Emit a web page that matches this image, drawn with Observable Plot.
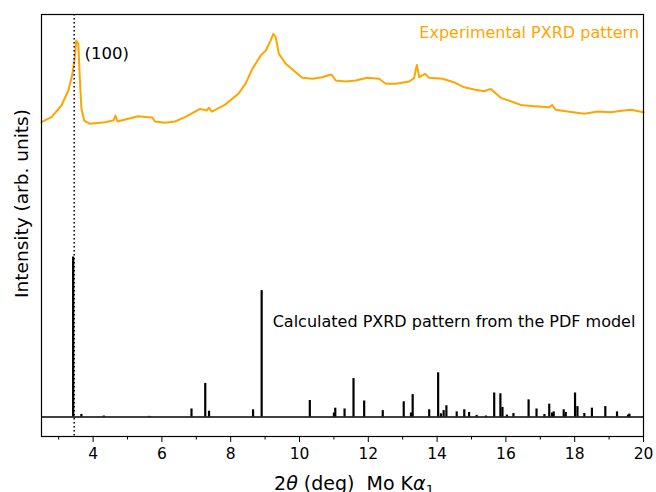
<!DOCTYPE html>
<html>
<head>
<meta charset="utf-8">
<script src="https://cdn.jsdelivr.net/npm/d3@7"></script>
<script src="https://cdn.jsdelivr.net/npm/@observablehq/plot@0.6"></script>
<style>
  body { margin: 0; background: #fff; }
  #chart { width: 656px; height: 492px; }
  #chart svg { font-family: "DejaVu Sans", sans-serif; }
</style>
</head>
<body>
<div id="chart"></div>
<script>
// Calculated reflections: 2θ positions (deg) and relative intensities (strongest = 100)
const calcTheta = [3.42, 3.66, 4.31, 5.63, 6.86, 7.26, 7.37, 8.65, 8.90, 10.30,
  11.00, 11.04, 11.31, 11.57, 11.88, 12.42, 13.03, 13.24, 13.29, 13.77,
  14.03, 14.11, 14.19, 14.27, 14.57, 14.79, 14.93, 15.15, 15.42, 15.66,
  15.84, 15.90, 16.03, 16.22, 16.66, 16.89, 17.12, 17.26, 17.34, 17.39,
  17.68, 17.74, 18.01, 18.08, 18.28, 18.50, 18.89, 19.23, 19.55, 19.59];
const calcIntensity = [100, 1.6, 0.6, 0.4, 5, 21, 3.6, 4.5, 79, 10.3,
  2.5, 5.5, 5, 24, 10, 4, 9.5, 2.5, 14, 4.5,
  27.6, 2, 4, 7, 3.2, 4.5, 2.8, 1, 0.6, 15,
  14.5, 6, 1.2, 2.2, 10.7, 5, 1.5, 8, 2.5, 3.2,
  4.5, 2.8, 15, 6.5, 2.2, 5.5, 6.5, 3.2, 1.2, 1.8];

// Measured pattern, offset above the calculated one (same intensity units)
const expTheta = [2.50, 2.79, 3.08, 3.28, 3.39, 3.47, 3.51, 3.57, 3.61, 3.66,
  3.74, 3.91, 4.34, 4.59, 4.65, 4.71, 5.02, 5.31, 5.60, 5.72,
  5.80, 6.09, 6.38, 6.67, 7.11, 7.30, 7.37, 7.45, 7.83, 8.22,
  8.43, 8.63, 8.87, 9.02, 9.16, 9.24, 9.31, 9.40, 9.60, 9.89,
  10.08, 10.37, 10.66, 10.91, 10.97, 11.05, 11.34, 11.63, 11.97, 12.31,
  12.51, 12.80, 13.19, 13.33, 13.41, 13.48, 13.65, 13.77, 14.16, 14.53,
  14.79, 15.08, 15.37, 15.56, 15.85, 16.14, 16.43, 16.82, 17.26, 17.34,
  17.45, 17.79, 18.28, 18.67, 19.05, 19.25, 19.63, 20.00];
const expIntensity = [184.3, 187.4, 194.7, 204.1, 213.4, 224.9, 235.3, 233.3, 213.4, 192.8,
  185.3, 183.3, 184.3, 185.3, 188.4, 184.7, 186.4, 188.0, 187.4, 187.2,
  184.7, 183.9, 184.7, 187.4, 192.6, 191.6, 193.3, 190.9, 195.1, 202.0,
  208.3, 217.6, 225.9, 229.1, 235.3, 239.5, 237.4, 227.0, 220.8, 215.5,
  212.0, 211.4, 212.4, 214.1, 213.0, 210.3, 209.7, 210.3, 212.0, 211.4,
  208.3, 208.3, 209.7, 211.8, 220.1, 212.4, 214.5, 212.0, 211.4, 208.9,
  206.1, 204.7, 203.6, 205.1, 199.5, 197.4, 195.1, 194.3, 193.6, 195.1,
  192.0, 190.9, 189.5, 190.9, 190.5, 191.1, 192.0, 190.5];

// (100) reflection marker
const hklTheta = 3.45;
const hklLabel = "(100)";

const majorTicks = [4, 6, 8, 10, 12, 14, 16, 18, 20];
const minorTicks = [3, 5, 7, 9, 11, 13, 15, 17, 19];

const expLabel = "Experimental PXRD pattern";
const calcLabel = "Calculated PXRD pattern from the PDF model";
const yLabel = "Intensity (arb. units)";

const calc = calcTheta.map((t, i) => ({theta: t, intensity: calcIntensity[i]}));
const expt = expTheta.map((t, i) => ({theta: t, intensity: expIntensity[i]}));

const orange = "#ffa500";

const chart = Plot.plot({
  width: 656,
  height: 492,
  marginLeft: 41,
  marginRight: 13,
  marginTop: 14,
  marginBottom: 56,
  style: {fontFamily: "DejaVu Sans, sans-serif", color: "black", background: "white"},
  x: {domain: [2.5, 20]},
  y: {domain: [-12.2, 251.6], axis: null},
  marks: [
    Plot.ruleY([0], {stroke: "black", strokeWidth: 1.5}),
    Plot.ruleX(calc, {x: "theta", y1: 0, y2: "intensity", stroke: "black", strokeWidth: 2.2}),
    Plot.line(expt, {x: "theta", y: "intensity", stroke: orange, strokeWidth: 2, curve: "linear"}),
    Plot.ruleX([hklTheta], {stroke: "black", strokeWidth: 1.5, strokeDasharray: "1.5,2.5"}),
    Plot.text([hklLabel], {x: 3.75, y: 227, text: d => d, textAnchor: "start", fontSize: 16.5, fill: "black"}),
    Plot.text([expLabel], {x: 19.87, y: 240.3, text: d => d, textAnchor: "end", fontSize: 16, fill: orange}),
    Plot.text([calcLabel], {x: 9.22, y: 59.7, text: d => d, textAnchor: "start", fontSize: 16, fill: "black"}),
    Plot.text([yLabel], {frameAnchor: "left", textAnchor: "middle", dx: -19, dy: -22, rotate: -90, text: d => d, fontSize: 18.5, fill: "black"}),
    Plot.axisX({ticks: majorTicks, tickSize: 6, tickPadding: 5, fontSize: 15.5, label: null, tickFormat: d => d}),
    Plot.axisX({ticks: minorTicks, tickSize: 3.5, tickFormat: () => "", label: null}),
    Plot.frame({stroke: "black", strokeWidth: 1.2})
  ]
});

// x-axis title with italic symbols and subscript
const svg = d3.select(chart);
const xt = svg.append("text")
  .attr("x", 354).attr("y", 490)
  .attr("text-anchor", "middle")
  .attr("font-size", 19)
  .attr("fill", "black");
xt.append("tspan").text("2");
xt.append("tspan").attr("font-style", "italic").text("θ");
xt.append("tspan").text(" (deg)  Mo K");
xt.append("tspan").attr("font-style", "italic").text("α");
xt.append("tspan").attr("font-size", 13).attr("dy", 4).text("1");

document.getElementById("chart").appendChild(chart);
</script>
</body>
</html>
